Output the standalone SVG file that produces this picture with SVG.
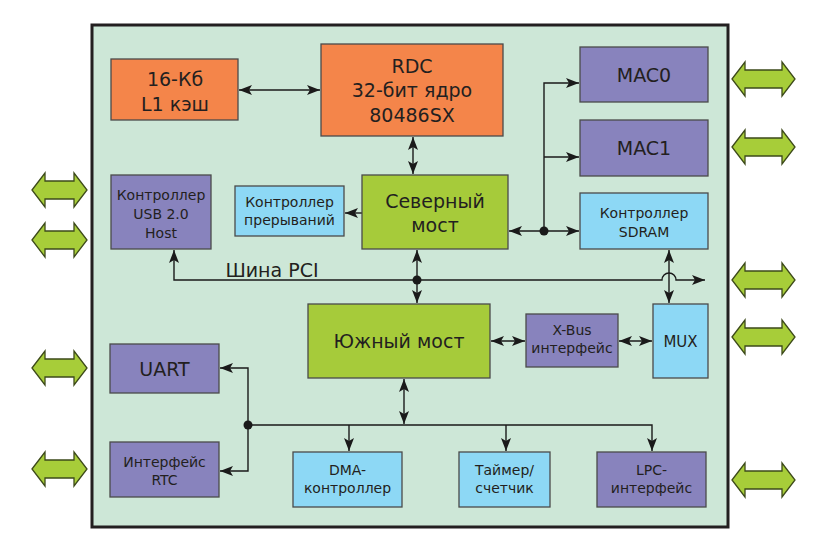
<svg xmlns="http://www.w3.org/2000/svg" width="819" height="549" viewBox="0 0 819 549">
<defs>
<style>
.box{stroke:#4a4a4a;stroke-width:1.3}
.or{fill:#f4854a}.pu{fill:#8883bd}.bl{fill:#8dd8f5}.gr{fill:#a6cb3a}
.t{font-family:"DejaVu Sans",sans-serif;fill:#231f20;text-anchor:middle}
.s{font-size:14px}.l{font-size:19px}
.ln{fill:none;stroke:#1a1a1a;stroke-width:1.4}
.ga{fill:#a7cd39;stroke:#3d4a1a;stroke-width:1.3}
</style>
<marker id="a" markerUnits="userSpaceOnUse" markerWidth="14" markerHeight="11" refX="13" refY="5" orient="auto-start-reverse" viewBox="0 0 14 10">
<path d="M0,0 L13,5 L0,10 L3,5 z" fill="#1a1a1a"/>
</marker>
</defs>
<rect x="0" y="0" width="819" height="549" fill="#ffffff"/>
<rect x="92" y="25" width="636" height="502" fill="#cde7d7" stroke="#231f20" stroke-width="3"/>

<g id="io-arrows">
<path class="ga" d="M732,79 L745,62 L745,70 L782,70 L782,62 L795,79 L782,96 L782,88 L745,88 L745,96 z"/>
<path class="ga" d="M732,147 L745,130 L745,138 L782,138 L782,130 L795,147 L782,164 L782,156 L745,156 L745,164 z"/>
<path class="ga" d="M732,280 L745,263 L745,271 L782,271 L782,263 L795,280 L782,297 L782,289 L745,289 L745,297 z"/>
<path class="ga" d="M732,337 L745,320 L745,328 L782,328 L782,320 L795,337 L782,354 L782,346 L745,346 L745,354 z"/>
<path class="ga" d="M732,480 L745,463 L745,471 L782,471 L782,463 L795,480 L782,497 L782,489 L745,489 L745,497 z"/>
<path class="ga" d="M32,190 L45,173 L45,181 L74,181 L74,173 L87,190 L74,207 L74,199 L45,199 L45,207 z"/>
<path class="ga" d="M32,240 L45,223 L45,231 L74,231 L74,223 L87,240 L74,257 L74,249 L45,249 L45,257 z"/>
<path class="ga" d="M32,368 L45,351 L45,359 L74,359 L74,351 L87,368 L74,385 L74,377 L45,377 L45,385 z"/>
<path class="ga" d="M32,469 L45,452 L45,460 L74,460 L74,452 L87,469 L74,486 L74,478 L45,478 L45,486 z"/>
</g>

<g id="connectors">
<line class="ln" x1="239" y1="90" x2="320" y2="90" marker-start="url(#a)" marker-end="url(#a)"/>
<line class="ln" x1="413" y1="137" x2="413" y2="174" marker-start="url(#a)" marker-end="url(#a)"/>
<line class="ln" x1="362" y1="213" x2="345" y2="213" marker-end="url(#a)"/>
<path class="ln" d="M544,231 V83 H579" marker-end="url(#a)"/>
<path class="ln" d="M544,157 H579" marker-end="url(#a)"/>
<line class="ln" x1="509" y1="231" x2="579" y2="231" marker-start="url(#a)" marker-end="url(#a)"/>
<circle cx="544" cy="231" r="4.5" fill="#1a1a1a"/>
<line class="ln" x1="417" y1="250" x2="417" y2="303" marker-start="url(#a)" marker-end="url(#a)"/>
<path class="ln" d="M417,280 H174 V250" marker-end="url(#a)"/>
<path class="ln" d="M417,280 H662 A7,7 0 0 1 676,280 H705" marker-end="url(#a)"/>
<circle cx="417" cy="280" r="4.5" fill="#1a1a1a"/>
<line class="ln" x1="669" y1="250" x2="669" y2="303" marker-start="url(#a)" marker-end="url(#a)"/>
<line class="ln" x1="491" y1="341" x2="525" y2="341" marker-start="url(#a)" marker-end="url(#a)"/>
<line class="ln" x1="619" y1="341" x2="652" y2="341" marker-start="url(#a)" marker-end="url(#a)"/>
<line class="ln" x1="404" y1="379" x2="404" y2="424" marker-start="url(#a)" marker-end="url(#a)"/>
<path class="ln" d="M248,425 H652 V451" marker-end="url(#a)"/>
<path class="ln" d="M349,425 V451" marker-end="url(#a)"/>
<path class="ln" d="M506,425 V451" marker-end="url(#a)"/>
<path class="ln" d="M248,425 V368 H220" marker-end="url(#a)"/>
<path class="ln" d="M248,425 V471 H220" marker-end="url(#a)"/>
<circle cx="248" cy="425" r="4.5" fill="#1a1a1a"/>
<text class="t" x="272" y="277" font-size="19">Шина PCI</text>
</g>

<g id="l1cache"><rect class="box or" x="111" y="59" width="127" height="61"/>
<text class="t l" x="175" y="86">16-Кб</text><text class="t l" x="175" y="111">L1 кэш</text></g>
<g id="rdc"><rect class="box or" x="321" y="44" width="182" height="92"/>
<text class="t l" x="412" y="73">RDC</text><text class="t l" x="412" y="97">32-бит ядро</text><text class="t l" x="412" y="122">80486SX</text></g>
<g id="mac0"><rect class="box pu" x="580" y="47" width="128" height="55"/><text class="t l" x="644" y="82">MAC0</text></g>
<g id="mac1"><rect class="box pu" x="580" y="120" width="128" height="56"/><text class="t l" x="644" y="155">MAC1</text></g>
<g id="usb"><rect class="box pu" x="111" y="175" width="100" height="74"/>
<text class="t s" x="161" y="200">Контроллер</text><text class="t s" x="161" y="219">USB 2.0</text><text class="t s" x="161" y="238">Host</text></g>
<g id="irq"><rect class="box bl" x="235" y="186" width="109" height="50"/>
<text class="t s" x="289.5" y="207">Контроллер</text><text class="t s" x="289.5" y="225">прерываний</text></g>
<g id="northbridge"><rect class="box gr" x="362" y="175" width="146" height="74"/>
<text class="t l" x="435" y="208">Северный</text><text class="t l" x="435" y="232">мост</text></g>
<g id="sdram"><rect class="box bl" x="580" y="193" width="128" height="56"/>
<text class="t s" x="644" y="218">Контроллер</text><text class="t s" x="644" y="237">SDRAM</text></g>
<g id="southbridge"><rect class="box gr" x="308" y="304" width="182" height="74"/><text class="t l" x="399" y="348">Южный мост</text></g>
<g id="xbus"><rect class="box pu" x="526" y="314" width="92" height="53"/>
<text class="t s" x="572" y="335">X-Bus</text><text class="t s" x="572" y="353">интерфейс</text></g>
<g id="mux"><rect class="box bl" x="653" y="304" width="55" height="74"/><text class="t" x="680.5" y="347" font-size="15">MUX</text></g>
<g id="uart"><rect class="box pu" x="110" y="344" width="109" height="49"/><text class="t l" x="164.5" y="376">UART</text></g>
<g id="rtc"><rect class="box pu" x="110" y="442" width="109" height="55"/>
<text class="t s" x="164.5" y="467">Интерфейс</text><text class="t s" x="164.5" y="485">RTC</text></g>
<g id="dma"><rect class="box bl" x="293" y="452" width="109" height="55"/>
<text class="t s" x="347.5" y="475">DMA-</text><text class="t s" x="347.5" y="493">контроллер</text></g>
<g id="timer"><rect class="box bl" x="459" y="452" width="91" height="55"/>
<text class="t s" x="504.5" y="475">Таймер/</text><text class="t s" x="504.5" y="493">счетчик</text></g>
<g id="lpc"><rect class="box pu" x="597" y="452" width="109" height="55"/>
<text class="t s" x="651.5" y="475">LPC-</text><text class="t s" x="651.5" y="493">интерфейс</text></g>
</svg>
